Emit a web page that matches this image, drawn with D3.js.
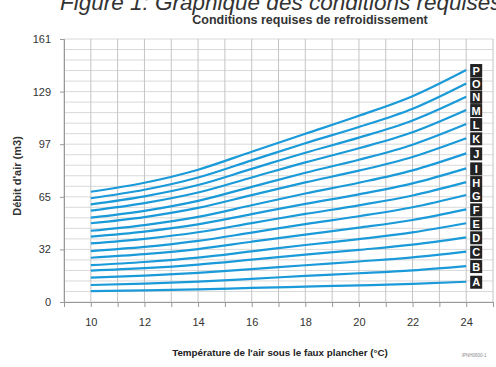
<!DOCTYPE html>
<html>
<head>
<meta charset="utf-8" />
<title>Conditions requises de refroidissement</title>
<script src="https://d3js.org/d3.v7.min.js"></script>
<style>
  body { margin: 0; background: #fff; }
  svg { display: block; font-family: "Liberation Sans", Arial, sans-serif; }
</style>
</head>
<body>
<svg id="viz"></svg>
<script>

// temperatures where each curve was read
var temps = [10, 12, 14, 16, 18, 20, 22, 24];

// curve names, bottom to top
var curveNames = ["A","B","C","D","E","F","G","H","I","J","K","L","M","N","O","P"];

// air flow read for each curve at the temperatures above
var curveA = [6.7, 7.1, 7.7, 8.6, 9.4, 10.2, 11.1, 12.4];
var curveB = [10.4, 11.3, 12.5, 14.2, 16.0, 17.6, 19.4, 22.0];
var curveC = [14.9, 16.1, 17.8, 20.1, 22.5, 24.8, 27.3, 30.8];
var curveD = [19.2, 20.7, 22.9, 25.9, 29.0, 31.9, 35.1, 39.6];
var curveE = [22.6, 24.5, 27.2, 31.0, 34.9, 38.5, 42.6, 48.2];
var curveF = [27.1, 29.3, 32.4, 36.9, 41.3, 45.5, 50.2, 56.7];
var curveG = [31.2, 33.7, 37.4, 42.5, 47.7, 52.5, 58.0, 65.5];
var curveH = [35.9, 38.7, 42.7, 48.3, 53.9, 59.2, 65.2, 73.4];
var curveI = [40.0, 43.1, 47.5, 53.8, 60.1, 65.9, 72.6, 81.8];
var curveJ = [43.6, 47.1, 52.1, 59.2, 66.4, 73.0, 80.6, 91.0];
var curveK = [48.2, 52.0, 57.6, 65.4, 73.2, 80.4, 88.8, 100.2];
var curveL = [51.6, 55.8, 61.9, 70.5, 79.1, 87.1, 96.3, 108.9];
var curveM = [55.9, 60.5, 67.0, 76.2, 85.5, 94.1, 103.9, 117.5];
var curveN = [59.8, 64.7, 71.6, 81.5, 91.4, 100.6, 111.1, 125.6];
var curveO = [63.5, 68.7, 76.2, 86.7, 97.2, 107.1, 118.3, 133.8];
var curveP = [67.5, 73.0, 81.0, 92.0, 103.0, 114.0, 126.0, 142.0];

var curves = [curveA, curveB, curveC, curveD, curveE, curveF, curveG, curveH,
              curveI, curveJ, curveK, curveL, curveM, curveN, curveO, curveP];

// axis tick labels as printed
var yTickLabels = ["0", "32", "65", "97", "129", "161"];
var xTickLabels = [10, 12, 14, 16, 18, 20, 22, 24];

var width = 496, height = 367;
var margin = {left: 64, right: 3, top: 39, bottom: 65};

var svg = d3.select("#viz")
  .attr("width", width)
  .attr("height", height);

var x = d3.scaleLinear().domain([9, 25]).range([margin.left, width - margin.right]);
var y = d3.scaleLinear().domain([0, 161]).range([height - margin.bottom, margin.top]);

var plot = svg.append("g");

// horizontal grid, 5 steps per labelled step
var ySteps = d3.range(0, 26).map(function(i) { return i * 161 / 25; });
plot.selectAll(".hgrid").data(ySteps).enter().append("line")
  .attr("x1", x(9)).attr("x2", x(25))
  .attr("y1", function(d) { return y(d); })
  .attr("y2", function(d) { return y(d); })
  .attr("stroke", "#d9d9d9")
  .attr("stroke-width", 1);

// vertical grid at every degree
plot.selectAll(".vgrid").data(d3.range(9, 26)).enter().append("line")
  .attr("x1", function(d) { return x(d); })
  .attr("x2", function(d) { return x(d); })
  .attr("y1", y(0)).attr("y2", y(161))
  .attr("stroke", "#c4c4c4")
  .attr("stroke-width", 1);

// y axis
var yAxis = d3.axisLeft(y)
  .tickValues(yTickLabels.map(function(d, i) { return i * 161 / 5; }))
  .tickFormat(function(d, i) { return yTickLabels[i]; })
  .tickSize(4)
  .tickPadding(9);

var gy = svg.append("g")
  .attr("transform", "translate(" + x(9) + ",0)")
  .call(yAxis);
gy.select(".domain").attr("stroke", "#999");
gy.selectAll(".tick line").attr("stroke", "#999");
gy.selectAll("text").attr("fill", "#333").style("font-size", "11px");

// x axis: ticks every degree, labels every two
var xAxis = d3.axisBottom(x)
  .tickValues(d3.range(9, 26))
  .tickFormat(function(d) { return xTickLabels.indexOf(d) >= 0 ? d : ""; })
  .tickSize(5)
  .tickPadding(11);

var gx = svg.append("g")
  .attr("transform", "translate(0," + y(0) + ")")
  .call(xAxis);
gx.select(".domain").attr("stroke", "#999");
gx.selectAll(".tick line").attr("stroke", "#999");
gx.selectAll("text").attr("fill", "#333").style("font-size", "11px");

// curves
var line = d3.line()
  .curve(d3.curveMonotoneX)
  .x(function(d, i) { return x(temps[i]); })
  .y(function(d) { return y(d); });

plot.selectAll(".curve").data(curves).enter().append("path")
  .attr("d", line)
  .attr("fill", "none")
  .attr("stroke", "#1a9ad8")
  .attr("stroke-width", 2.2);

// letter boxes at the end of each curve
var tags = svg.selectAll(".tag").data(curves).enter().append("g")
  .attr("transform", function(d) {
    return "translate(" + (x(24) + 4) + "," + y(d[d.length - 1]) + ")";
  });

tags.append("rect")
  .attr("x", 0).attr("y", -6)
  .attr("width", 12).attr("height", 13)
  .attr("fill", "#222");

tags.append("text")
  .attr("x", 6).attr("y", 4.5)
  .attr("text-anchor", "middle")
  .attr("fill", "#fff")
  .style("font-size", "11px")
  .style("font-weight", "bold")
  .text(function(d, i) { return curveNames[i]; });

// titles (the big one is cut by the top edge, as in the source)
svg.append("text")
  .attr("x", 60).attr("y", 10)
  .attr("fill", "#333")
  .style("font-size", "22.5px")
  .style("font-style", "italic")
  .text("Figure 1: Graphique des conditions requises de refroidissement");

svg.append("text")
  .attr("x", 310).attr("y", 24)
  .attr("text-anchor", "middle")
  .attr("fill", "#333")
  .style("font-size", "12.5px")
  .style("font-weight", "bold")
  .text("Conditions requises de refroidissement");

svg.append("text")
  .attr("transform", "translate(21,176) rotate(-90)")
  .attr("text-anchor", "middle")
  .attr("fill", "#333")
  .style("font-size", "11px")
  .style("font-weight", "bold")
  .text("Débit d'air (m3)");

svg.append("text")
  .attr("x", 280).attr("y", 356)
  .attr("text-anchor", "middle")
  .attr("fill", "#222")
  .style("font-size", "9.8px")
  .style("font-weight", "bold")
  .text("Température de l'air sous le faux plancher (°C)");

svg.append("text")
  .attr("x", 462).attr("y", 357)
  .attr("fill", "#888")
  .style("font-size", "4.5px")
  .text("iPNH0600-1");

</script>
</body>
</html>
